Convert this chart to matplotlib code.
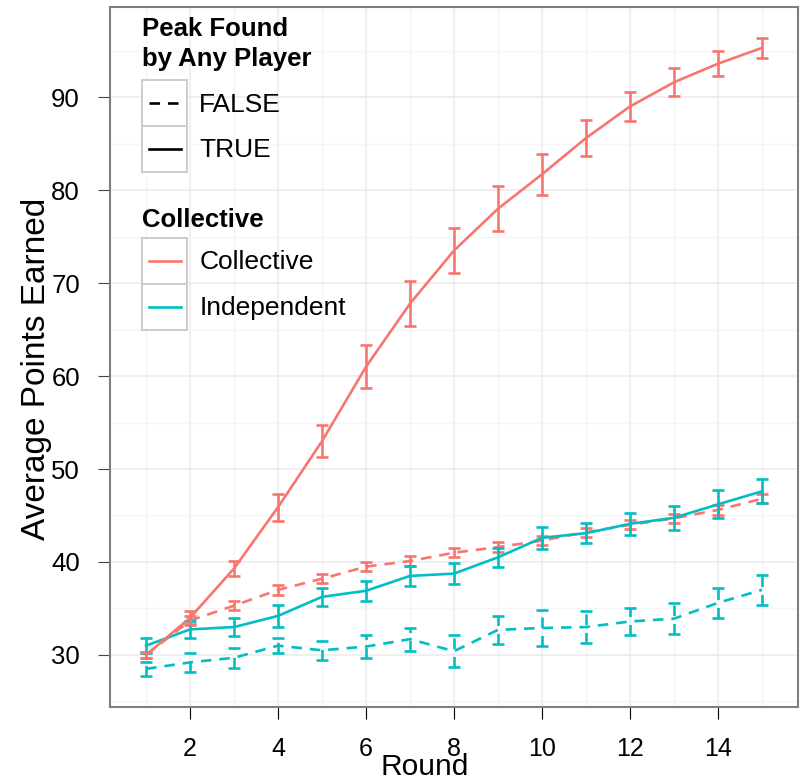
import matplotlib
matplotlib.use("Agg")
import matplotlib.pyplot as plt
import numpy as np
from matplotlib.legend_handler import HandlerBase
from matplotlib.lines import Line2D
from matplotlib.patches import Rectangle

plt.rcParams['font.family'] = ['Liberation Sans', 'DejaVu Sans']

rounds = np.arange(1, 16)

# Collective, peak found (solid)
col_true = [30.0, 34.0, 39.3, 45.9, 53.0, 61.0, 67.8, 73.5, 78.0, 81.7, 85.6, 89.0, 91.6, 93.6, 95.3]
col_true_se = [0.3, 0.7, 0.8, 1.45, 1.75, 2.3, 2.4, 2.45, 2.4, 2.2, 1.9, 1.6, 1.5, 1.35, 1.1]
# Collective, peak not found (dashed)
col_false = [30.0, 33.7, 35.3, 37.0, 38.2, 39.5, 40.1, 41.0, 41.6, 42.3, 43.2, 44.0, 44.7, 45.6, 46.8]
col_false_se = [0.3, 0.5, 0.45, 0.5, 0.5, 0.5, 0.5, 0.5, 0.5, 0.5, 0.5, 0.5, 0.5, 0.5, 0.5]
# Independent, peak found (solid)
ind_true = [31.0, 32.75, 33.0, 34.2, 36.25, 36.9, 38.5, 38.75, 40.5, 42.6, 43.1, 44.1, 44.75, 46.2, 47.6]
ind_true_se = [0.8, 0.9, 1.0, 1.15, 1.0, 1.05, 1.05, 1.15, 1.0, 1.15, 1.1, 1.2, 1.3, 1.5, 1.3]
# Independent, peak not found (dashed)
ind_false = [28.5, 29.2, 29.7, 31.0, 30.5, 30.9, 31.7, 30.4, 32.7, 32.9, 33.0, 33.6, 33.9, 35.6, 37.0]
ind_false_se = [0.75, 1.05, 1.1, 0.8, 1.05, 1.2, 1.25, 1.7, 1.5, 1.9, 1.7, 1.5, 1.65, 1.6, 1.6]

RED = '#F8766D'
TEAL = '#00BFC4'
DASH = (0, (4, 3))
LW = 1.9

fig = plt.figure(figsize=(8.03, 7.81), dpi=100)
ax = fig.add_axes([110 / 803, 74 / 781, 688 / 803, 700 / 781])


def draw(y, se, color, ls, z):
    line, caps, bars = ax.errorbar(rounds, y, yerr=se, color=color, lw=LW, ls=ls,
                                   capsize=4.2, capthick=LW, elinewidth=LW, zorder=z)
    line.set_linestyle(ls)
    for b in bars:
        b.set_linestyle(ls)


draw(col_false, col_false_se, RED, DASH, 3)
draw(ind_false, ind_false_se, TEAL, DASH, 3)
draw(ind_true, ind_true_se, TEAL, '-', 4)
draw(col_true, col_true_se, RED, '-', 5)

ax.set_xlim(0.18, 15.82)
ax.set_ylim(24.4, 99.7)
ax.set_xticks(np.arange(2, 15, 2))
ax.set_xticks(np.arange(1, 16, 2), minor=True)
ax.set_yticks(np.arange(30, 91, 10))
ax.set_yticks(np.arange(25, 100, 10), minor=True)
ax.grid(True, which='major', color='#EBEBEB', lw=1.1, zorder=0)
ax.grid(True, which='minor', color='#F5F5F5', lw=0.9, zorder=0)
ax.set_axisbelow(True)
ax.tick_params(which='minor', length=0)
ax.tick_params(axis='x', which='major', length=8.6, width=0.8, color='black', pad=13, labelsize=18)
ax.tick_params(axis='y', which='major', length=8.6, width=0.8, color='#444444', pad=13, labelsize=18.5)
for s in ax.spines.values():
    s.set_color('#7F7F7F')
    s.set_linewidth(1.5)

ax.set_xlabel('Round', fontsize=21.5)
ax.xaxis.set_label_coords(0.458, -0.066)
ax.set_ylabel('Average Points Earned', fontsize=24)
ax.yaxis.label.set_va('center')
ax.yaxis.set_label_coords(-0.107, 0.483)


class BoxedLine(HandlerBase):
    def create_artists(self, legend, orig_handle, xdescent, ydescent, width, height, fontsize, trans):
        box = Rectangle((-xdescent, -ydescent), width, height, fc='white', ec='#CCCCCC',
                        lw=1.4, transform=trans)
        y = -ydescent + height / 2
        pad = 0.25 * fontsize
        ln = Line2D([-xdescent + pad, -xdescent + width - pad], [y, y])
        ln.update_from(orig_handle)
        ln.set_transform(trans)
        return [box, ln]


leg_kw = dict(loc='upper left', frameon=False, fontsize=19, handlelength=1.72, handleheight=2.3,
              handletextpad=0.45, labelspacing=0, borderpad=0, borderaxespad=0,
              alignment='left', title_fontproperties={'weight': 'bold', 'size': 18.5},
              handler_map={Line2D: BoxedLine()})

peak_handles = [Line2D([], [], color='black', lw=LW, ls=DASH),
                Line2D([], [], color='black', lw=LW, ls='-')]
leg1 = ax.legend(peak_handles, ['FALSE', 'TRUE'], title='Peak Found\nby Any Player',
                 bbox_to_anchor=(142 / 803, 1 - 17 / 781), bbox_transform=fig.transFigure, **leg_kw)
leg1.get_title().set_linespacing(1.3)
leg1._legend_box.sep = 7
ax.add_artist(leg1)

coll_handles = [Line2D([], [], color=RED, lw=LW), Line2D([], [], color=TEAL, lw=LW)]
leg2 = ax.legend(coll_handles, ['Collective', 'Independent'], title='Collective',
                 bbox_to_anchor=(142 / 803, 1 - 208 / 781), bbox_transform=fig.transFigure, **leg_kw)
leg2._legend_box.sep = 4.5

fig.savefig('out.png', dpi=100)
